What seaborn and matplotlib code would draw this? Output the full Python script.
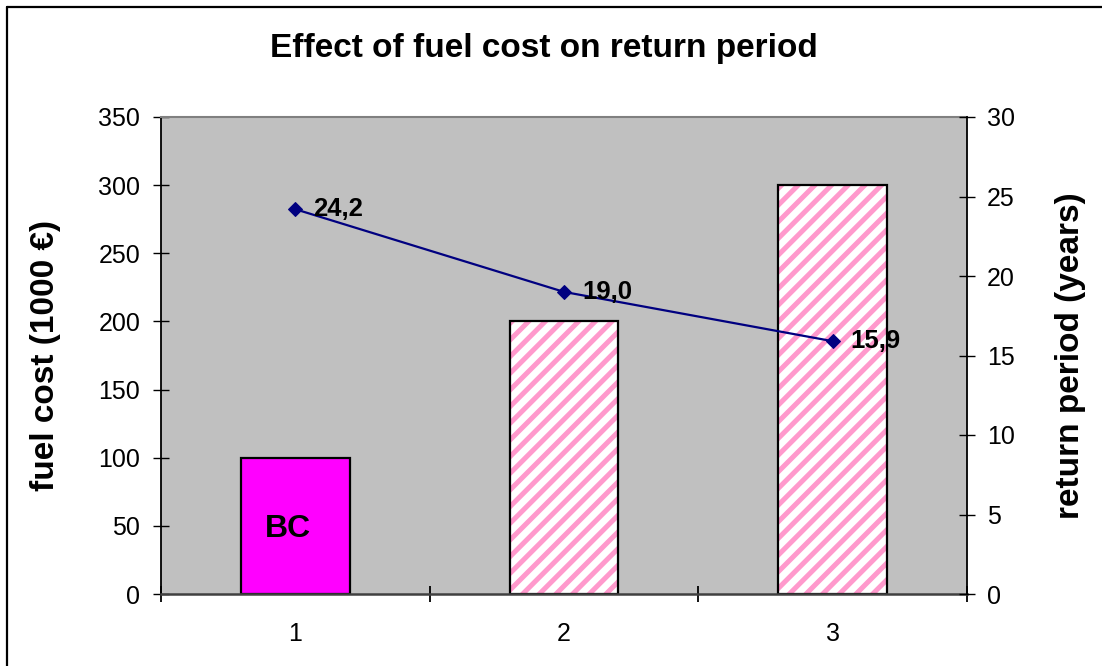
import matplotlib
matplotlib.use("Agg")
import matplotlib.pyplot as plt
from matplotlib.lines import Line2D
from matplotlib.patches import Rectangle
import seaborn as sns

# Scenario data
scenarios = [1, 2, 3]
fuel_cost = [100, 200, 300]            # 1000 €
return_period = [24.2, 19.0, 15.9]     # years
base_case_label = "BC"

left_ticks = [0, 50, 100, 150, 200, 250, 300, 350]
right_ticks = [0, 5, 10, 15, 20, 25, 30]

sns.set_theme(style="white")
plt.rcParams["font.family"] = ["Liberation Sans", "DejaVu Sans"]
plt.rcParams["hatch.linewidth"] = 3.6
for key in ["text.color", "axes.labelcolor", "xtick.color", "ytick.color"]:
    plt.rcParams[key] = "black"

fig = plt.figure(figsize=(11.02, 6.66), dpi=100)
fig.patch.set_facecolor("white")
ax = fig.add_axes([161 / 1102, 72 / 666, 806 / 1102, 477 / 666])
ax.set_facecolor("#C0C0C0")

sns.barplot(x=scenarios, y=fuel_cost, native_scale=True, width=0.405,
            color="#FF00FF", saturation=1, ax=ax, errorbar=None)

bars = list(ax.patches)
for i, p in enumerate(bars):
    if i == 0:
        p.set_facecolor("#FF00FF")
        p.set_edgecolor("black")
        p.set_linewidth(1.6)
    else:
        p.set_facecolor("white")
        p.set_edgecolor("#FF99CC")
        p.set_hatch("//")
        p.set_linewidth(0)
        ax.add_patch(Rectangle(p.get_xy(), p.get_width(), p.get_height(),
                               fill=False, edgecolor="black", linewidth=1.6,
                               zorder=p.get_zorder() + 0.1))

ax.set_xlim(0.5, 3.5)
ax.set_ylim(0, 350)
ax.set_yticks(left_ticks)
ax.set_xticks(scenarios)
ax.set_xticklabels([str(s) for s in scenarios])
ax.set_xticks([0.5, 1.5, 2.5, 3.5], minor=True)
ax.tick_params(axis="x", which="major", length=0, pad=20, labelsize=18, colors="black")
ax.tick_params(axis="x", which="minor", length=12, width=1.3, direction="inout",
               bottom=True, color="black")
ax.tick_params(axis="y", which="major", length=12, width=1, direction="inout",
               left=True, pad=9, labelsize=18, color="black")
ax.set_xlabel("")
ax.set_ylabel("fuel cost (1000 €)", fontsize=24, fontweight="bold", va="center")
ax.yaxis.set_label_coords((45 - 161) / 806, 0.5)

ax.text(scenarios[0] - 0.027, 48, base_case_label, ha="center", va="center",
        fontsize=23, fontweight="bold", color="black")

for side in ["left", "right", "top", "bottom"]:
    ax.spines[side].set_visible(True)
ax.spines["left"].set_color("black")
ax.spines["left"].set_linewidth(1.3)
ax.spines["bottom"].set_color("#404040")
ax.spines["bottom"].set_linewidth(1.8)
ax.spines["top"].set_color("#808080")
ax.spines["top"].set_linewidth(1.5)
ax.spines["right"].set_visible(False)

ax2 = ax.twinx()
sns.lineplot(x=scenarios, y=return_period, ax=ax2, color="#000080",
             linewidth=1.6, marker="D", markersize=7.5,
             markeredgecolor="#000080", markerfacecolor="#000080")
ax2.set_ylim(0, 30)
ax2.set_yticks(right_ticks)
ax2.tick_params(axis="y", which="major", length=12, width=1, direction="inout",
                right=True, pad=8.5, labelsize=18, color="black")
ax2.set_ylabel("return period (years)", fontsize=24, fontweight="bold",
               va="center", rotation=90)
ax2.yaxis.set_label_coords((1070 - 161) / 806, 0.5)
for side in ["left", "top", "bottom"]:
    ax2.spines[side].set_visible(False)
ax2.spines["right"].set_color("black")
ax2.spines["right"].set_linewidth(1.3)

for x, v in zip(scenarios, return_period):
    ax2.annotate(f"{v:.1f}".replace(".", ","), xy=(x, v), xytext=(13, 0),
                 textcoords="offset points", ha="left", va="center",
                 fontsize=18.5, fontweight="bold", color="black")

fig.text(544 / 1102, 1 - 48 / 666, "Effect of fuel cost on return period",
         ha="center", va="center", fontsize=24, fontweight="bold", color="black")

# Frame lines along the top and left edges
fig.add_artist(Line2D([7 / 1102, 1], [1 - 7 / 666, 1 - 7 / 666],
                      transform=fig.transFigure, color="black", linewidth=1.6))
fig.add_artist(Line2D([7 / 1102, 7 / 1102], [0, 1 - 7 / 666],
                      transform=fig.transFigure, color="black", linewidth=1.6))

fig.savefig("out.png", dpi=100)
